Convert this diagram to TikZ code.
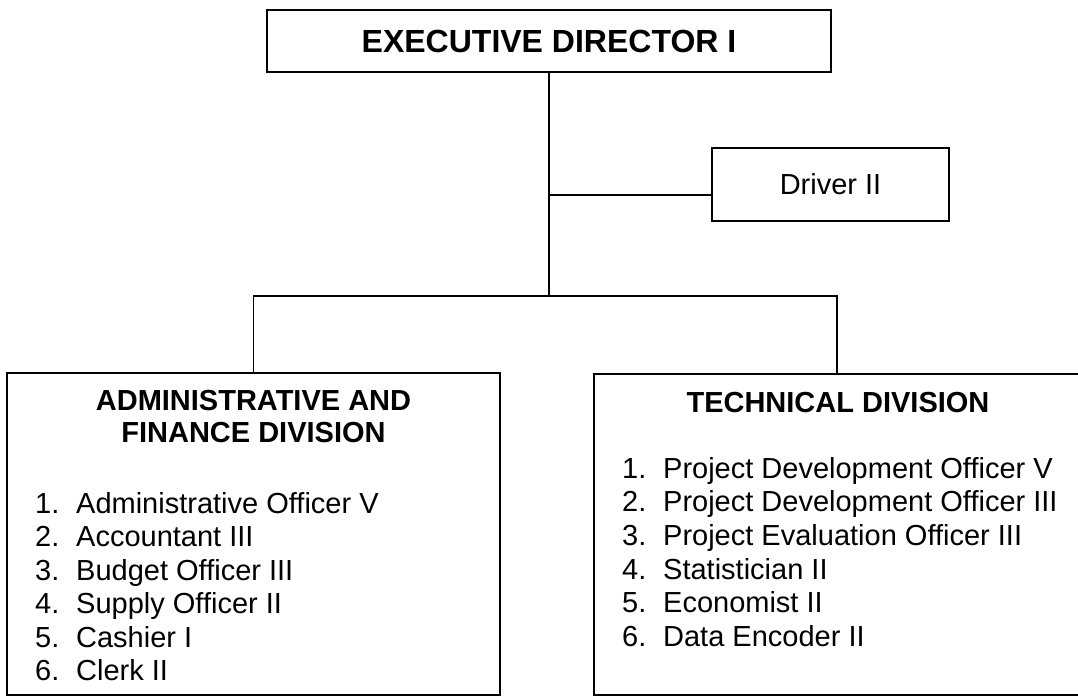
\documentclass[tikz,border=0pt]{standalone}
\usepackage{fontspec}
\setmainfont{Liberation Sans}
\begin{document}
\begin{tikzpicture}[x=1pt,y=-1pt,
  box/.style={draw,line width=1.6pt,rectangle,inner sep=0pt},
  conn/.style={line width=1.6pt},
  ttl/.style={font=\fontsize{29}{33.5}\selectfont\bfseries,align=center,inner sep=0pt},
  item/.style={font=\fontsize{29}{33.5}\selectfont,anchor=base west,inner sep=0pt}]
\useasboundingbox (0,0) rectangle (1078,698);
\fill[white] (0,0) rectangle (1078,698);
\begin{scope}
\clip (0,0) rectangle (1078,698);
% boxes
\node[box,minimum width=564pt,minimum height=62pt,font=\fontsize{32}{36}\selectfont\bfseries] (ed) at (549,41) {EXECUTIVE DIRECTOR I};
\node[box,minimum width=237pt,minimum height=73pt,font=\fontsize{29}{33}\selectfont] (drv) at (830.5,184.5) {Driver II};
\node[box,minimum width=493pt,minimum height=322pt] (adm) at (253.5,534) {};
\node[box,minimum width=492pt,minimum height=321pt] (tech) at (840,534.5) {};
% connectors
\coordinate (j) at (549,296);
\coordinate (dj) at (549,195);
\coordinate (tj) at (837,296);
\draw[conn] (ed.south) -- (j);
\draw[conn] (dj) -- (dj -| drv.west);
\draw[conn] (adm.north) -- (adm.north |- j) -- (tj) -- (tj |- tech.north);
\end{scope}
% titles
\node[ttl,anchor=base] (admt1) at (253.5,410) {ADMINISTRATIVE AND};
\node[ttl,anchor=base] (admt2) at (253.5,442) {FINANCE DIVISION};
\node[ttl,anchor=base] (techt) at (838,412) {TECHNICAL DIVISION};
% admin list
\foreach \n/\t [count=\k from 0] in {1/Administrative Officer V,2/Accountant III,3/Budget Officer III,4/Supply Officer II,5/Cashier I,6/Clerk II}{
  \node[item] (a\n) at (35,513+33.5*\k) {\makebox[41pt][l]{\n.}\t};
}
% technical list
\foreach \n/\t [count=\k from 0] in {1/Project Development Officer V,2/Project Development Officer III,3/Project Evaluation Officer III,4/Statistician II,5/Economist II,6/Data Encoder II}{
  \node[item] (t\n) at (622,478+33.7*\k) {\makebox[41pt][l]{\n.}\t};
}
\end{tikzpicture}
\end{document}
